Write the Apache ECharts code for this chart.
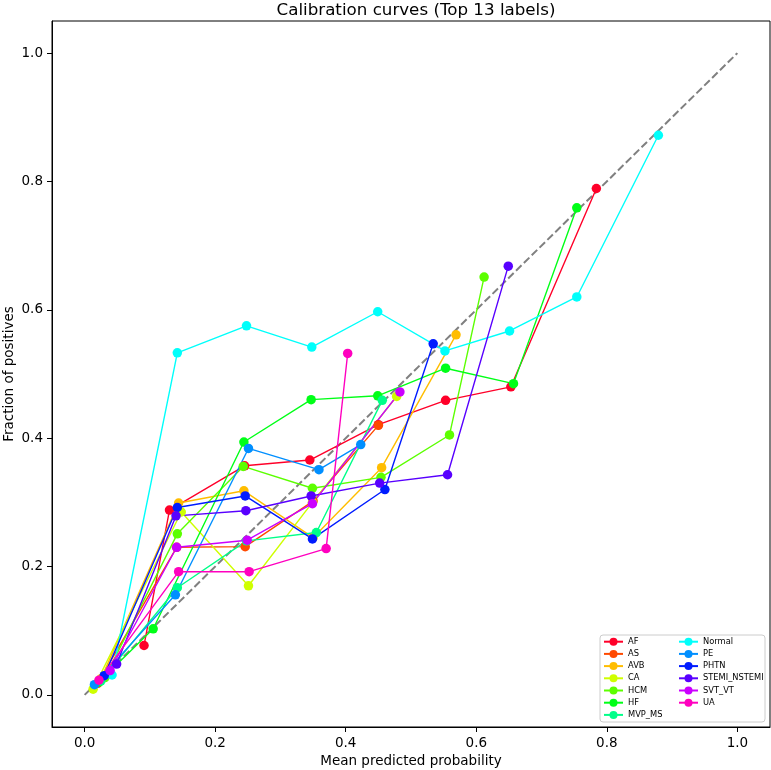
<!DOCTYPE html>
<html>
<head>
<meta charset="utf-8">
<script src="https://cdn.jsdelivr.net/npm/echarts@6/dist/echarts.min.js"></script>
<style>
  html, body { margin: 0; padding: 0; background: #fff; }
  #app { width: 771px; height: 770px; }
</style>
</head>
<body>
<div id="app"></div>
<script>
// label names, in legend order
const labels = ['AF', 'AS', 'AVB', 'CA', 'HCM', 'HF', 'MVP_MS',
  'Normal', 'PE', 'PHTN', 'STEMI_NSTEMI', 'SVT_VT', 'UA'];

// gist_rainbow, 13 steps
const colors = ['#ff0029', '#ff4a00', '#ffbd00', '#cfff00', '#5cff00', '#00ff17', '#00ff89',
  '#00fffb', '#008fff', '#001cff', '#5800ff', '#cb00ff', '#ff00bf'];

// [mean predicted probability, fraction of positives]
const AF = [[0.091, 0.077], [0.130, 0.288], [0.245, 0.357], [0.345, 0.366], [0.450, 0.421], [0.553, 0.459], [0.653, 0.480], [0.784, 0.789]];
const AS = [[0.020, 0.018], [0.141, 0.230], [0.246, 0.231], [0.350, 0.302], [0.450, 0.420]];
const AVB = [[0.025, 0.025], [0.144, 0.299], [0.244, 0.318], [0.350, 0.245], [0.455, 0.354], [0.569, 0.561]];
const CA = [[0.013, 0.009], [0.148, 0.285], [0.251, 0.170], [0.349, 0.300], [0.478, 0.465]];
const HCM = [[0.031, 0.027], [0.142, 0.251], [0.243, 0.356], [0.349, 0.322], [0.454, 0.339], [0.559, 0.405], [0.612, 0.651]];
const HF = [[0.022, 0.020], [0.105, 0.103], [0.244, 0.394], [0.347, 0.460], [0.449, 0.466], [0.553, 0.509], [0.657, 0.485], [0.754, 0.759]];
const MVP_MS = [[0.025, 0.022], [0.142, 0.167], [0.248, 0.240], [0.355, 0.253], [0.456, 0.459]];
const Normal = [[0.042, 0.031], [0.142, 0.533], [0.248, 0.575], [0.348, 0.542], [0.449, 0.597], [0.552, 0.536], [0.651, 0.567], [0.754, 0.620], [0.879, 0.872]];
const PE = [[0.015, 0.016], [0.139, 0.156], [0.251, 0.384], [0.359, 0.351], [0.423, 0.390]];
const PHTN = [[0.030, 0.030], [0.142, 0.292], [0.246, 0.310], [0.349, 0.243], [0.460, 0.320], [0.534, 0.547]];
const STEMI_NSTEMI = [[0.049, 0.048], [0.140, 0.279], [0.247, 0.287], [0.347, 0.310], [0.452, 0.330], [0.556, 0.343], [0.649, 0.668]];
const SVT_VT = [[0.039, 0.038], [0.141, 0.230], [0.249, 0.241], [0.349, 0.298], [0.483, 0.472]];
const UA = [[0.022, 0.023], [0.144, 0.192], [0.252, 0.192], [0.370, 0.228], [0.403, 0.532]];

const curves = [AF, AS, AVB, CA, HCM, HF, MVP_MS, Normal, PE, PHTN, STEMI_NSTEMI, SVT_VT, UA];

const diagonal = [[0, 0], [1, 1]];
const ticks = [0, 0.2, 0.4, 0.6, 0.8, 1.0];

const FONT = 'DejaVu Sans';

const chart = echarts.init(document.getElementById('app'), null, { renderer: 'canvas' });

const series = [{
  name: 'diag',
  type: 'line',
  data: diagonal,
  symbol: 'none',
  silent: true,
  z: 1,
  lineStyle: { color: '#808080', width: 2, type: [7.7, 3.3] }
}];
curves.forEach((d, i) => {
  series.push({
    name: labels[i],
    type: 'line',
    data: d,
    symbol: 'circle',
    symbolSize: 9.5,
    showSymbol: true,
    z: 2,
    itemStyle: { color: colors[i] },
    lineStyle: { color: colors[i], width: 1.4 },
    animation: false
  });
});

const axisCommon = {
  type: 'value',
  min: -0.05,
  max: 1.05,
  splitLine: { show: false },
  axisLine: { show: true, onZero: false, lineStyle: { color: '#000', width: 1 } },
  axisTick: { show: true, customValues: ticks, length: 5, lineStyle: { color: '#000' } },
  axisLabel: {
    customValues: ticks,
    margin: 9,
    color: '#000',
    fontFamily: FONT,
    fontSize: 13.5,
    formatter: v => v.toFixed(1)
  },
  nameLocation: 'middle',
  nameMoveOverlap: false,
  nameTextStyle: { color: '#000', fontFamily: FONT, fontSize: 13.5 }
};

const legendCommon = {
  orient: 'vertical',
  itemWidth: 19,
  itemHeight: 10,
  itemGap: 2.2,
  padding: 0,
  textStyle: { fontFamily: FONT, fontSize: 8.3, color: '#000', lineHeight: 10 },
  z: 5
};

chart.setOption({
  animation: false,
  backgroundColor: '#fff',
  title: {
    text: 'Calibration curves (Top 13 labels)',
    left: 411,
    textAlign: 'center',
    top: -3,
    textStyle: { fontFamily: FONT, fontSize: 16.7, fontWeight: 'normal', color: '#000' }
  },
  grid: {
    left: 52, right: 1, top: 21, bottom: 43,
    outerBoundsMode: 'none',
    containLabel: false,
    show: true, borderColor: '#000', borderWidth: 1, backgroundColor: 'transparent'
  },
  xAxis: Object.assign({}, axisCommon, { name: 'Mean predicted probability', nameGap: 27 }),
  yAxis: Object.assign({}, axisCommon, { name: 'Fraction of positives', nameGap: 36 }),
  graphic: [{
    type: 'rect',
    shape: { x: 600, y: 635, width: 165, height: 87, r: 3 },
    style: { fill: 'rgba(255,255,255,0.8)', stroke: '#cccccc', lineWidth: 1 },
    z: 4,
    silent: true
  }],
  legend: [
    Object.assign({}, legendCommon, { left: 603, top: 636.7, data: labels.slice(0, 7) }),
    Object.assign({}, legendCommon, { left: 678, top: 636.7, data: labels.slice(7) })
  ],
  series: series
});
</script>
</body>
</html>
